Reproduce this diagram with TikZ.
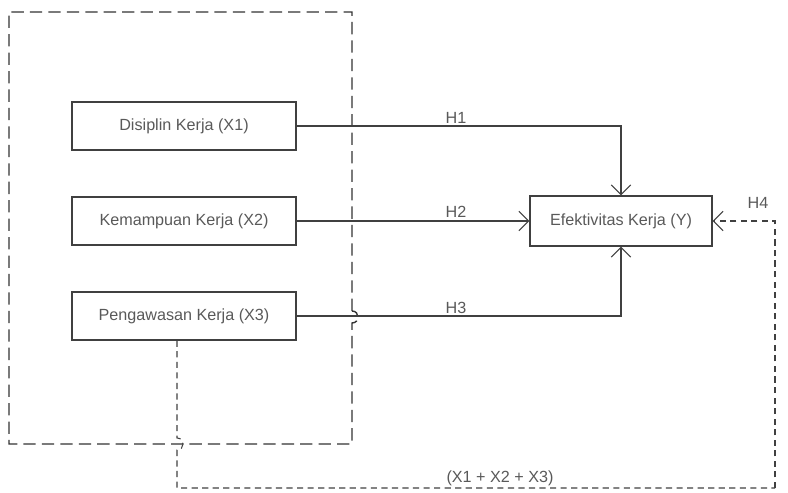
\documentclass[tikz,border=0pt]{standalone}
\usepackage{fontspec}
\setmainfont{Liberation Sans}
\usetikzlibrary{arrows.meta}
\begin{document}
\begin{tikzpicture}[
    x=0.02cm, y=-0.02cm,
    varbox/.style={
        rectangle,
        draw=black!75,
        thick,
        minimum width=4.48cm,
        minimum height=0.96cm,
        inner sep=2pt,
        font=\fontsize{9.2}{11}\selectfont,
        text=black!65
    },
    hlabel/.style={
        font=\fontsize{9.2}{11}\selectfont,
        text=black!65
    },
    link/.style={
        draw=black!75,
        semithick,
        -{Straight Barb[length=5.5pt,width=11pt]}
    },
    groupline/.style={
        draw=black!80,
        thick,
        dash pattern=on 7pt off 3.5pt
    },
    jointline/.style={
        draw=black!75,
        semithick,
        dash pattern=on 3.5pt off 2.5pt
    }
]
\useasboundingbox (0,0) rectangle (788,493);

% Variabel bebas
\node[varbox] (x1) at (184,126) {Disiplin Kerja (X1)};
\node[varbox] (x2) at (184,221) {Kemampuan Kerja (X2)};
\node[varbox] (x3) at (184,316) {Pengawasan Kerja (X3)};

% Variabel terikat
\node[varbox, minimum width=3.64cm, minimum height=1cm] (y) at (621,221) {Efektivitas Kerja (Y)};

% Kotak putus-putus
\draw[groupline] (352,311) -- (352,12) -- (9,12) -- (9,444) -- (352,444) -- (352,323)
    .. controls (360,323) and (360,311) .. (352,311);

% Hipotesis parsial
\draw[link] (x1.east) -| (y.north);
\draw[link] (x2.east) -- (y.west);
\draw[link] (x3.east) -| (y.south);

\node[hlabel] (h1) at (456,118) {H1};
\node[hlabel] (h2) at (456,212) {H2};
\node[hlabel] (h3) at (456,308) {H3};

% Hipotesis simultan
\coordinate (jstart) at ([xshift=-0.14cm]x3.south);
\coordinate (jcorner) at (775,488);
\draw[jointline] (jstart) -- (177,438) .. controls (185,438) and (185,450) .. (177,450)
    -- (177,488) -- (jcorner);
\draw[jointline, -{Straight Barb[length=5.5pt,width=11pt]}] (jcorner) |- (y.east);

\node[hlabel] (h4) at (758,203) {H4};
\node[hlabel] (jlabel) at (500,478) {(X1 + X2 + X3)};

\end{tikzpicture}
\end{document}
